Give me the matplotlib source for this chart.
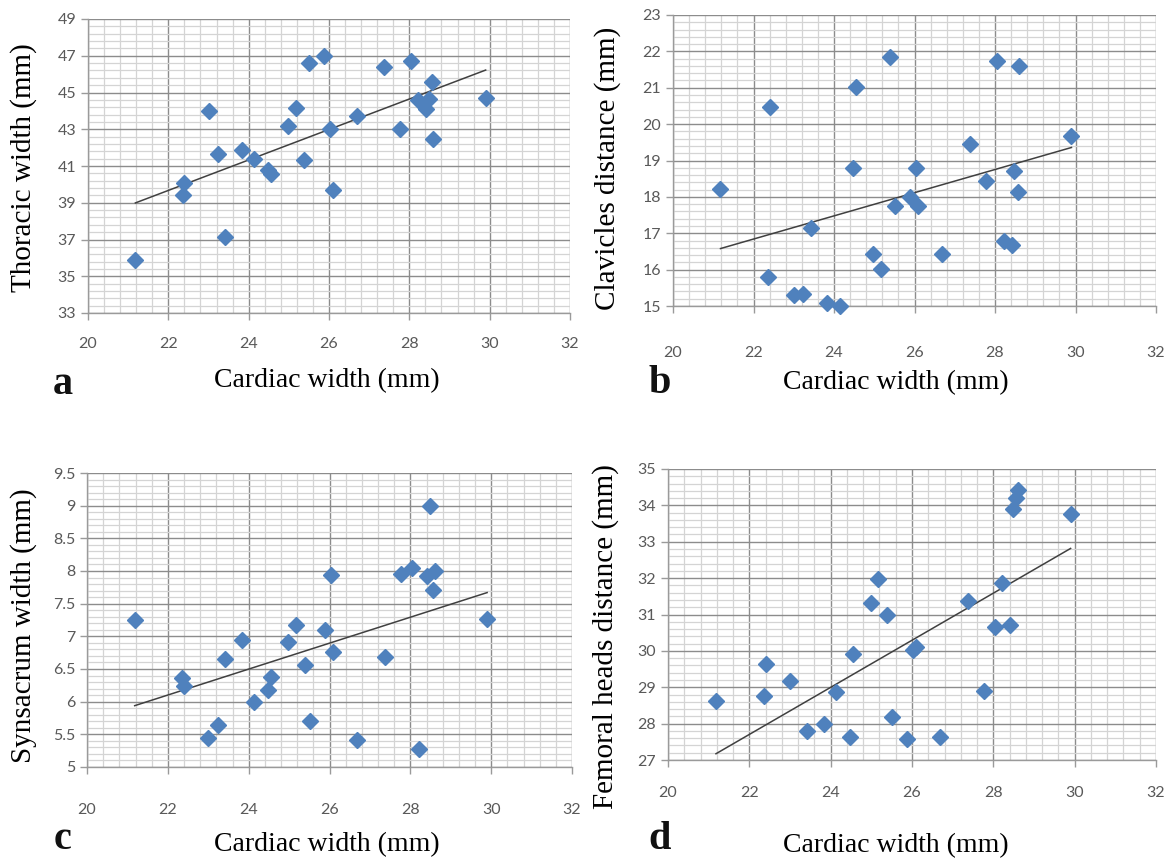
import numpy as np
import matplotlib
matplotlib.use('Agg')
import matplotlib.pyplot as plt
from matplotlib.ticker import MultipleLocator, FormatStrFormatter


# cardiac width (mm), shared x values of all four panels
cardiac = [21.18, 22.36, 22.40, 23.00, 23.23, 23.42, 23.83, 24.14, 24.47,
           24.55, 24.98, 25.17, 25.39, 25.51, 25.88, 26.03, 26.09, 26.69,
           27.38, 27.77, 28.05, 28.22, 28.42, 28.48, 28.56, 28.60, 29.90]

thoracic = [35.89, 39.42, 40.08, 44.00, 41.64, 37.16, 41.86, 41.39, 40.77,
            40.54, 43.18, 44.17, 41.35, 46.61, 47.01, 43.00, 39.67, 43.70,
            46.41, 43.03, 46.74, 44.61, 44.12, 44.66, 45.56, 42.49, 44.71]

clavicles = [18.23, 15.80, 20.47, 15.30, 15.34, 17.14, 15.07, 15.00, 18.79,
             21.03, 16.43, 16.03, 21.85, 17.75, 18.00, 18.79, 17.75, 16.44,
             19.46, 18.44, 21.74, 16.79, 16.68, 18.72, 18.14, 21.61, 19.67]

synsacrum = [7.25, 6.36, 6.24, 5.45, 5.65, 6.66, 6.94, 6.00, 6.18,
             6.37, 6.91, 7.18, 6.56, 5.71, 7.09, 7.94, 6.76, 5.42,
             6.69, 7.96, 8.05, 5.27, 7.92, 9.00, 7.71, 8.00, 7.26]

# the 23.23 point lies below the axis minimum in panel d (estimated from the trend line)
femoral = [28.63, 28.77, 29.65, 29.17, 26.52, 27.80, 28.00, 28.86, 27.63,
           29.91, 31.32, 31.97, 30.99, 28.19, 27.57, 30.02, 30.10, 27.63,
           31.36, 28.90, 30.65, 31.86, 30.72, 33.90, 34.21, 34.41, 33.77]

ylabels = ['Thoracic width (mm)', 'Clavicles distance (mm)',
           'Synsacrum width (mm)', 'Femoral heads distance (mm)']
letters = ['a', 'b', 'c', 'd']


W, H = 1167, 861
fig = plt.figure(figsize=(W / 100, H / 100), dpi=100)

serif = 'Liberation Serif'
tickfont = 'Lato'
blue = '#4f81bd'


def px_box(l, r, t, b):
    return [l / W, 1 - b / H, (r - l) / W, (b - t) / H]


panels = [
    # data, box (l, r, t, b px), ylim, major, minor, xtick pad, ylabel xy, letter xy (baseline), xlabel xy
    (thoracic, (88, 570, 19, 313), (33, 49), 2, 0.4, 12, (24, 168), (63, 394), (327, 381)),
    (clavicles, (673, 1156, 15, 306), (15, 23), 1, 0.2, 24, (608, 168), (660, 393), (896, 383)),
    (synsacrum, (87, 572, 473, 767), (5, 9.5), 0.5, 0.1, 21, (24, 626), (63, 849), (327, 845)),
    (femoral, (668, 1156, 469, 760), (27, 35), 1, 0.2, 14, (606, 637), (660, 849), (896, 846)),
]

for i, (yvals, box, ylim, major, minor, pad, ylab_xy, let_xy, xlab_xy) in enumerate(panels):
    ax = fig.add_axes(px_box(*box))
    x = np.array(cardiac)
    y = np.array(yvals, dtype=float)

    ax.set_xlim(20, 32)
    ax.set_ylim(*ylim)
    ax.xaxis.set_major_locator(MultipleLocator(2))
    ax.xaxis.set_minor_locator(MultipleLocator(0.4))
    ax.yaxis.set_major_locator(MultipleLocator(major, offset=ylim[0] % major))
    ax.yaxis.set_minor_locator(MultipleLocator(minor, offset=ylim[0] % major))
    ax.yaxis.set_major_formatter(FormatStrFormatter('%g'))

    ax.grid(which='major', color='#8c8c8c', linewidth=1.0)
    ax.grid(which='minor', color='#d4d4d4', linewidth=0.9)
    ax.set_axisbelow(True)

    for s in ['top', 'right']:
        ax.spines[s].set_visible(False)
    for s in ['left', 'bottom']:
        ax.spines[s].set_color('#9a9a9a')
        ax.spines[s].set_linewidth(1.0)

    ax.tick_params(which='major', direction='out', length=5, width=1,
                   color='#9a9a9a', labelcolor='#595959', labelsize=11.5)
    ax.tick_params(which='minor', length=0)
    ax.tick_params(axis='x', pad=pad)
    for lab in ax.get_xticklabels() + ax.get_yticklabels():
        lab.set_fontfamily(tickfont)

    # linear trend line over all points
    k, b0 = np.polyfit(x, y, 1)
    xs = np.array([x.min(), x.max()])
    ax.plot(xs, k * xs + b0, color='#404040', linewidth=1.1, zorder=3)

    # points outside the axis range are not shown
    vis = (y >= ylim[0]) & (y <= ylim[1])
    ax.plot(x[vis], y[vis], linestyle='none', marker='D', markersize=8.5,
            color=blue, markeredgecolor=blue, zorder=4, clip_on=False)

    fig.text(ylab_xy[0] / W, 1 - ylab_xy[1] / H, ylabels[i], rotation=90,
             ha='center', va='center', family=serif, fontsize=21, color='black')
    fig.text(xlab_xy[0] / W, 1 - xlab_xy[1] / H, 'Cardiac width (mm)',
             ha='center', va='center', family=serif, fontsize=20, color='black')
    fig.text(let_xy[0] / W, 1 - let_xy[1] / H, letters[i],
             ha='center', va='baseline', family=serif, fontsize=29,
             fontweight='bold', color='#111111')

fig.savefig('out.png', dpi=100, facecolor='white')
